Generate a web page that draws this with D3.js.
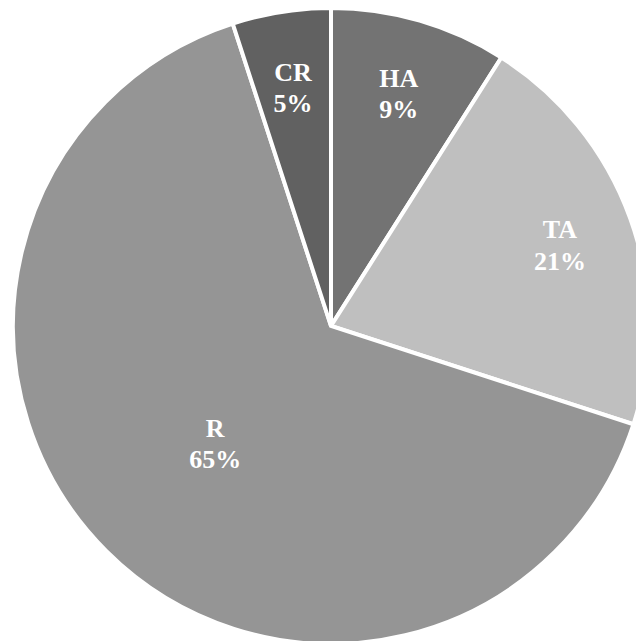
<!DOCTYPE html>
<html>
<head>
<meta charset="utf-8">
<script src="https://cdn.jsdelivr.net/npm/d3@7"></script>
<style>
  html, body { margin: 0; padding: 0; background: #ffffff; overflow: hidden; }
  svg { display: block; }
</style>
</head>
<body>
<svg id="chart" width="636" height="641"></svg>
<script>
const categories = ["HA", "TA", "R", "CR"];
const values = [9, 21, 65, 5];
const colors = ["#737373", "#bfbfbf", "#959595", "#616161"];

const width = 636, height = 641;
const cx = 331, cy = 326, radius = 318;

const svg = d3.select("#chart");
const g = svg.append("g").attr("transform", `translate(${cx},${cy})`);

const data = categories.map((c, i) => ({ name: c, value: values[i], color: colors[i] }));

const pie = d3.pie().value(d => d.value).sort(null);
const arcs = pie(data);

const arc = d3.arc().innerRadius(0).outerRadius(radius);

g.selectAll("path.slice")
  .data(arcs)
  .enter().append("path")
  .attr("class", "slice")
  .attr("d", arc)
  .attr("fill", d => d.data.color)
  .attr("stroke", "#ffffff")
  .attr("stroke-width", 4)
  .attr("stroke-linejoin", "miter");

const total = d3.sum(values);
const fontSize = 26;

arcs.forEach(d => {
  const share = d.data.value / total;
  const lr = share > 0.5 ? radius * 0.515 : radius * 0.765;
  const labelArc = d3.arc().innerRadius(lr).outerRadius(lr);
  const [x, y] = labelArc.centroid(d);
  const t = g.append("text")
    .attr("x", x)
    .attr("y", y)
    .attr("text-anchor", "middle")
    .attr("font-family", "'Liberation Serif', 'Times New Roman', serif")
    .attr("font-weight", "bold")
    .attr("font-size", fontSize)
    .attr("fill", "#ffffff");
  t.append("tspan").attr("x", x).attr("dy", "-0.2em").text(d.data.name);
  t.append("tspan").attr("x", x).attr("dy", "1.2em").text(Math.round(share * 100) + "%");
});
</script>
</body>
</html>
